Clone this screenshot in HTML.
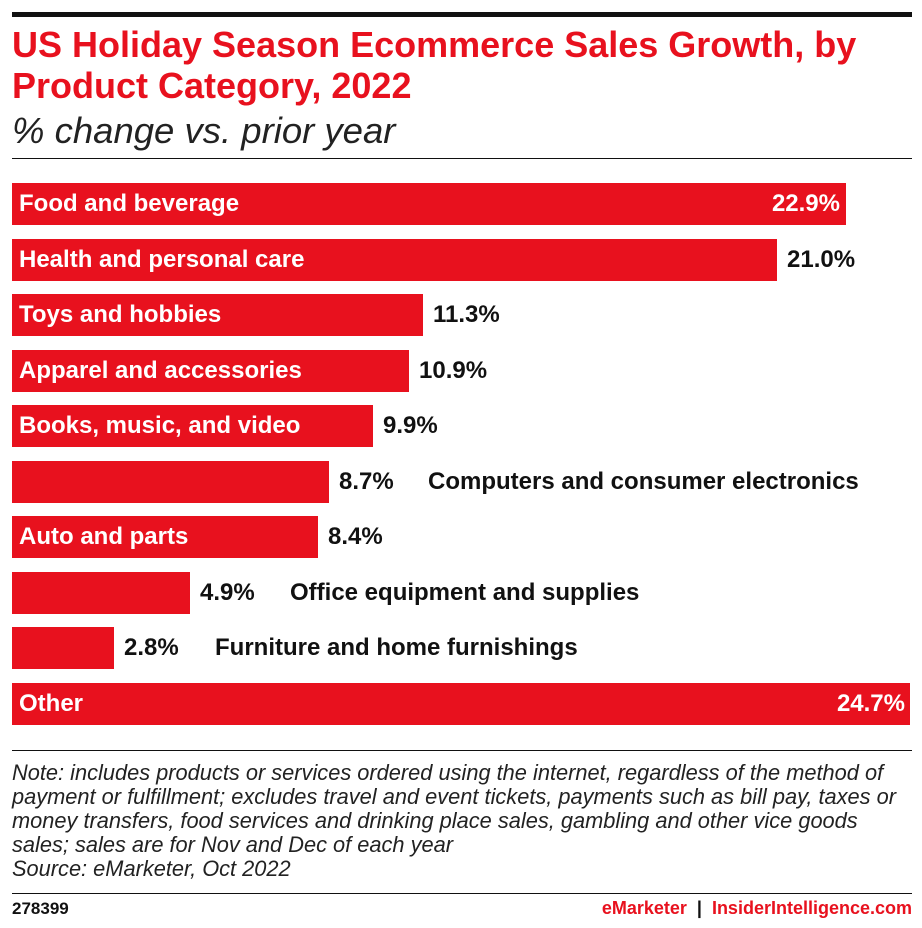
<!DOCTYPE html>
<html><head><meta charset="utf-8"><style>
body{margin:0;width:922px;height:928px;background:#fff;font-family:"Liberation Sans",sans-serif;position:relative;overflow:hidden}
.a{position:absolute}
.bar{position:absolute;left:12px;height:42px;background:#e8111e}
.in{position:absolute;left:19px;color:#fff;font-weight:bold;font-size:24px;line-height:42px;white-space:nowrap}
.v{position:absolute;color:#111;font-weight:bold;font-size:24px;line-height:42px;white-space:nowrap}
.vi{color:#fff}
.note{position:absolute;left:12px;font-style:italic;font-size:21.8px;color:#222;line-height:24px;white-space:nowrap}
</style></head><body>
<div class="a" style="left:12px;top:12px;width:900px;height:5px;background:#111"></div>
<div class="a" style="left:12px;top:24px;font-size:36px;font-weight:bold;color:#e8111e;line-height:41px;width:910px;white-space:nowrap">US Holiday Season Ecommerce Sales Growth, by<br>Product Category, 2022</div>
<div class="a" style="left:12px;top:110px;font-size:36.5px;font-style:italic;color:#222">% change vs. prior year</div>
<div class="a" style="left:12px;top:158px;width:900px;height:1px;background:#111"></div>

<div class="bar" style="top:183px;width:834px"></div><div class="in" style="top:183px">Food and beverage</div><div class="v vi" style="top:183px;right:82px">22.9%</div>
<div class="bar" style="top:239px;width:765px"></div><div class="in" style="top:239px">Health and personal care</div><div class="v" style="top:239px;left:787px">21.0%</div>
<div class="bar" style="top:294px;width:411px"></div><div class="in" style="top:294px">Toys and hobbies</div><div class="v" style="top:294px;left:433px">11.3%</div>
<div class="bar" style="top:350px;width:397px"></div><div class="in" style="top:350px">Apparel and accessories</div><div class="v" style="top:350px;left:419px">10.9%</div>
<div class="bar" style="top:405px;width:361px"></div><div class="in" style="top:405px">Books, music, and video</div><div class="v" style="top:405px;left:383px">9.9%</div>
<div class="bar" style="top:461px;width:317px"></div><div class="v" style="top:461px;left:339px">8.7%</div><div class="v" style="top:461px;left:428px">Computers and consumer electronics</div>
<div class="bar" style="top:516px;width:306px"></div><div class="in" style="top:516px">Auto and parts</div><div class="v" style="top:516px;left:328px">8.4%</div>
<div class="bar" style="top:572px;width:178px"></div><div class="v" style="top:572px;left:200px">4.9%</div><div class="v" style="top:572px;left:290px">Office equipment and supplies</div>
<div class="bar" style="top:627px;width:102px"></div><div class="v" style="top:627px;left:124px">2.8%</div><div class="v" style="top:627px;left:215px">Furniture and home furnishings</div>
<div class="bar" style="top:683px;width:898px"></div><div class="in" style="top:683px">Other</div><div class="v vi" style="top:683px;right:17px">24.7%</div>

<div class="a" style="left:12px;top:750px;width:900px;height:1px;background:#111"></div>
<div class="note" style="top:761px">Note: includes products or services ordered using the internet, regardless of the method of<br>payment or fulfillment; excludes travel and event tickets, payments such as bill pay, taxes or<br>money transfers, food services and drinking place sales, gambling and other vice goods<br>sales; sales are for Nov and Dec of each year<br>Source: eMarketer, Oct 2022</div>
<div class="a" style="left:12px;top:893px;width:900px;height:1px;background:#111"></div>
<div class="a" style="left:12px;top:899px;font-size:17px;font-weight:bold;color:#111">278399</div>
<div class="a" style="right:10px;top:898px;font-size:18px;font-weight:bold;color:#111;white-space:nowrap"><span style="color:#e8111e">eMarketer</span> &nbsp;|&nbsp; <span style="color:#e8111e">InsiderIntelligence.com</span></div>
</body></html>
